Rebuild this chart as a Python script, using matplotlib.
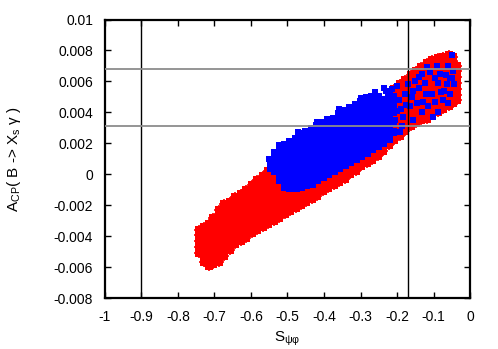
import matplotlib
matplotlib.use("Agg")
import matplotlib.pyplot as plt

plt.rcParams['font.family'] = ['Liberation Sans', 'DejaVu Sans']

# S_psiphi (x) and A_CP (y), grouped in columns of equal x
red_cols = [
    (-0.742, [-0.0051, -0.0047, -0.0043, -0.0039, -0.0036]),
    (-0.730, [-0.0057, -0.0053, -0.0049, -0.0045, -0.0041, -0.0037, -0.0034]),
    (-0.716, [-0.0059, -0.0056, -0.0052, -0.0048, -0.0044, -0.0040, -0.0036, -0.0032]),
    (-0.703, [-0.0058, -0.0055, -0.0051, -0.0047, -0.0043, -0.0039, -0.0035, -0.0031, -0.0028]),
    (-0.688, [-0.0057, -0.0054, -0.0050, -0.0046, -0.0042, -0.0038, -0.0034, -0.0030, -0.0026, -0.0023]),
    (-0.673, [-0.0053, -0.0050, -0.0046, -0.0042, -0.0038, -0.0034, -0.0030, -0.0026, -0.0022, -0.0019]),
    (-0.658, [-0.0049, -0.0046, -0.0042, -0.0038, -0.0034, -0.0030, -0.0026, -0.0022, -0.0018]),
    (-0.643, [-0.0045, -0.0042, -0.0038, -0.0034, -0.0030, -0.0026, -0.0022, -0.0018, -0.0015]),
    (-0.628, [-0.0043, -0.0040, -0.0036, -0.0032, -0.0028, -0.0024, -0.0020, -0.0016, -0.0013]),
    (-0.613, [-0.0041, -0.0038, -0.0034, -0.0030, -0.0026, -0.0022, -0.0018, -0.0014, -0.0010]),
    (-0.598, [-0.0038, -0.0035, -0.0031, -0.0027, -0.0023, -0.0019, -0.0015, -0.0011, -0.0007]),
    (-0.583, [-0.0036, -0.0033, -0.0029, -0.0025, -0.0021, -0.0017, -0.0013, -0.0009, -0.0005, -0.0004]),
    (-0.568, [-0.0034, -0.0031, -0.0027, -0.0023, -0.0019, -0.0015, -0.0011, -0.0007, -0.0003, -0.0001]),
    (-0.553, [-0.0032, -0.0029, -0.0025, -0.0021, -0.0017, -0.0013, -0.0009, -0.0005, -0.0001, 0.0002]),
    (-0.538, [-0.0030, -0.0027, -0.0023, -0.0019, -0.0015, -0.0011, -0.0007, -0.0003, 0.0001, 0.0004]),
    (-0.523, [-0.0028, -0.0025, -0.0021, -0.0017, -0.0013, -0.0009, -0.0005, -0.0001, 0.0003]),
    (-0.508, [-0.0026, -0.0023, -0.0019, -0.0015, -0.0011, -0.0007, -0.0003, 0.0001]),
    (-0.493, [-0.0024, -0.0021, -0.0017, -0.0013, -0.0009, -0.0005, -0.0001]),
    (-0.478, [-0.0022, -0.0019, -0.0015, -0.0011, -0.0007, -0.0003, 0.0001]),
    (-0.463, [-0.0020, -0.0017, -0.0013, -0.0009, -0.0005, -0.0001, 0.0003]),
    (-0.448, [-0.0018, -0.0015, -0.0011, -0.0007, -0.0003, 0.0001]),
    (-0.433, [-0.0016, -0.0013, -0.0009, -0.0005, -0.0001, 0.0003]),
    (-0.418, [-0.0014, -0.0011, -0.0007, -0.0003, 0.0001, 0.0005]),
    (-0.403, [-0.0011, -0.0008, -0.0004, 0.0000, 0.0004]),
    (-0.388, [-0.0009, -0.0006, -0.0002, 0.0002, 0.0006]),
    (-0.373, [-0.0007, -0.0004, 0.0000, 0.0004, 0.0008]),
    (-0.358, [-0.0005, -0.0002, 0.0002, 0.0006, 0.0010]),
    (-0.343, [-0.0003, 0.0000, 0.0004, 0.0008, 0.0012]),
    (-0.328, [0.0000, 0.0003, 0.0007, 0.0011, 0.0015]),
    (-0.313, [0.0002, 0.0005, 0.0009, 0.0013, 0.0017]),
    (-0.298, [0.0005, 0.0008, 0.0012, 0.0016, 0.0020]),
    (-0.283, [0.0007, 0.0010, 0.0014, 0.0018, 0.0022]),
    (-0.268, [0.0009, 0.0012, 0.0016, 0.0020, 0.0024]),
    (-0.253, [0.0012, 0.0015, 0.0019, 0.0023, 0.0027, 0.0031, 0.0035, 0.0039]),
    (-0.238, [0.0015, 0.0018, 0.0022, 0.0026, 0.0030, 0.0034, 0.0038, 0.0042, 0.0046]),
    (-0.223, [0.0019, 0.0022, 0.0026, 0.0030, 0.0034, 0.0038, 0.0042, 0.0046, 0.0050]),
    (-0.208, [0.0022, 0.0025, 0.0029, 0.0033, 0.0037, 0.0041, 0.0045, 0.0049, 0.0053, 0.0055]),
    (-0.193, [0.0025, 0.0028, 0.0032, 0.0036, 0.0040, 0.0044, 0.0048, 0.0052, 0.0056, 0.0058]),
    (-0.178, [0.0028, 0.0031, 0.0035, 0.0039, 0.0043, 0.0047, 0.0051, 0.0055, 0.0059, 0.0061]),
    (-0.163, [0.0031, 0.0034, 0.0038, 0.0042, 0.0046, 0.0050, 0.0054, 0.0058, 0.0062, 0.0064]),
    (-0.148, [0.0033, 0.0036, 0.0040, 0.0044, 0.0048, 0.0052, 0.0056, 0.0060, 0.0064, 0.0067]),
    (-0.133, [0.0035, 0.0038, 0.0042, 0.0046, 0.0050, 0.0054, 0.0058, 0.0062, 0.0066, 0.0069]),
    (-0.118, [0.0036, 0.0039, 0.0043, 0.0047, 0.0051, 0.0055, 0.0059, 0.0063, 0.0067, 0.0071, 0.0072]),
    (-0.103, [0.0038, 0.0041, 0.0045, 0.0049, 0.0053, 0.0057, 0.0061, 0.0065, 0.0069, 0.0073, 0.0074]),
    (-0.088, [0.0040, 0.0043, 0.0047, 0.0051, 0.0055, 0.0059, 0.0063, 0.0067, 0.0071, 0.0075]),
    (-0.073, [0.0042, 0.0045, 0.0049, 0.0053, 0.0057, 0.0061, 0.0065, 0.0069, 0.0073, 0.0076]),
    (-0.058, [0.0044, 0.0047, 0.0051, 0.0055, 0.0059, 0.0063, 0.0067, 0.0071, 0.0075, 0.0077]),
    (-0.046, [0.0046, 0.0049, 0.0053, 0.0057, 0.0061, 0.0065, 0.0069, 0.0073, 0.0076]),
    (-0.036, [0.0048, 0.0051, 0.0055, 0.0059, 0.0063, 0.0067, 0.0070]),
]

blue_cols = [
    (-0.545, [0.0004, 0.0008]),
    (-0.533, [0.0002, 0.0006, 0.0011, 0.0014]),
    (-0.520, [-0.0004, 0.0000, 0.0004, 0.0008, 0.0012, 0.0016]),
    (-0.507, [-0.0008, -0.0004, 0.0000, 0.0004, 0.0008, 0.0012, 0.0016, 0.0019]),
    (-0.493, [-0.0009, -0.0005, -0.0001, 0.0003, 0.0007, 0.0011, 0.0015, 0.0019, 0.0021]),
    (-0.478, [-0.0009, -0.0005, -0.0001, 0.0003, 0.0007, 0.0011, 0.0015, 0.0019, 0.0023]),
    (-0.463, [-0.0008, -0.0004, 0.0000, 0.0004, 0.0008, 0.0012, 0.0016, 0.0020, 0.0024, 0.0026]),
    (-0.448, [-0.0007, -0.0003, 0.0001, 0.0005, 0.0009, 0.0013, 0.0017, 0.0021, 0.0025, 0.0027]),
    (-0.433, [-0.0006, -0.0002, 0.0002, 0.0006, 0.0010, 0.0014, 0.0018, 0.0022, 0.0026, 0.0029]),
    (-0.418, [-0.0004, 0.0000, 0.0004, 0.0008, 0.0012, 0.0016, 0.0020, 0.0024, 0.0028, 0.0031]),
    (-0.403, [-0.0002, 0.0002, 0.0006, 0.0010, 0.0014, 0.0018, 0.0022, 0.0026, 0.0030, 0.0033]),
    (-0.388, [0.0000, 0.0004, 0.0008, 0.0012, 0.0016, 0.0020, 0.0024, 0.0028, 0.0032, 0.0035]),
    (-0.373, [0.0002, 0.0006, 0.0010, 0.0014, 0.0018, 0.0022, 0.0026, 0.0030, 0.0034, 0.0036]),
    (-0.358, [0.0004, 0.0008, 0.0012, 0.0016, 0.0020, 0.0024, 0.0028, 0.0032, 0.0036, 0.0039]),
    (-0.343, [0.0006, 0.0010, 0.0014, 0.0018, 0.0022, 0.0026, 0.0030, 0.0034, 0.0038, 0.0041]),
    (-0.328, [0.0008, 0.0012, 0.0016, 0.0020, 0.0024, 0.0028, 0.0032, 0.0036, 0.0040, 0.0043]),
    (-0.313, [0.0010, 0.0014, 0.0018, 0.0022, 0.0026, 0.0030, 0.0034, 0.0038, 0.0042, 0.0045]),
    (-0.298, [0.0012, 0.0016, 0.0020, 0.0024, 0.0028, 0.0032, 0.0036, 0.0040, 0.0044, 0.0047]),
    (-0.283, [0.0014, 0.0018, 0.0022, 0.0026, 0.0030, 0.0034, 0.0038, 0.0042, 0.0046, 0.0049]),
    (-0.268, [0.0016, 0.0020, 0.0024, 0.0028, 0.0032, 0.0036, 0.0040, 0.0044, 0.0048, 0.0050]),
    (-0.253, [0.0018, 0.0022, 0.0026, 0.0030, 0.0034, 0.0038, 0.0042, 0.0046, 0.0050]),
    (-0.238, [0.0020, 0.0024, 0.0028, 0.0032, 0.0036, 0.0040, 0.0044, 0.0048]),
    (-0.223, [0.0023, 0.0027, 0.0031, 0.0035, 0.0039, 0.0043, 0.0047, 0.0051]),
    (-0.210, [0.0027, 0.0033, 0.0040, 0.0045, 0.0050]),
]

# isolated blue points: over the red cloud on the right and along the upper edge
blue_x = [-0.050, -0.091, -0.060, -0.132, -0.082, -0.055, -0.123, -0.087, -0.151, -0.043,
          -0.055, -0.105, -0.155, -0.073, -0.128, -0.087, -0.132, -0.164, -0.155, -0.183,
          -0.200, -0.195, -0.192, -0.178, -0.110, -0.064, -0.101, -0.046, -0.140, -0.170,
          -0.115, -0.070, -0.215, -0.230, -0.190, -0.185, -0.175, -0.160, -0.145, -0.140,
          -0.120, -0.095, -0.080, -0.065, -0.048, -0.095, -0.118, -0.060, -0.205, -0.200,
          -0.470, -0.420, -0.360, -0.300, -0.260, -0.235, -0.522, -0.550]
blue_y = [0.0077, 0.0070, 0.0070, 0.0065, 0.0065, 0.0062, 0.0059, 0.0059, 0.0060, 0.0058,
          0.0052, 0.0052, 0.0054, 0.0048, 0.0047, 0.0040, 0.0040, 0.0044, 0.0035, 0.0037,
          0.0057, 0.0048, 0.0027, 0.0052, 0.0066, 0.0058, 0.0037, 0.0067, 0.0056, 0.0058,
          0.0044, 0.0054, 0.0055, 0.0054, 0.0042, 0.0031, 0.0045, 0.0050, 0.0046, 0.0063,
          0.0052, 0.0047, 0.0053, 0.0064, 0.0062, 0.0062, 0.0069, 0.0046, 0.0035, 0.0041,
          0.0027, 0.0034, 0.0042, 0.0049, 0.0053, 0.0056, 0.0019, 0.0010]

vlines = [-0.9, -0.17]
hlines = [0.0068, 0.0031]

xticks = [-1, -0.9, -0.8, -0.7, -0.6, -0.5, -0.4, -0.3, -0.2, -0.1, 0]
xtick_labels = ['-1', '-0.9', '-0.8', '-0.7', '-0.6', '-0.5', '-0.4', '-0.3', '-0.2', '-0.1', '0']
yticks = [-0.008, -0.006, -0.004, -0.002, 0, 0.002, 0.004, 0.006, 0.008, 0.01]
ytick_labels = ['-0.008', '-0.006', '-0.004', '-0.002', '0', '0.002', '0.004', '0.006', '0.008', '0.01']

rx = [x for x, ys in red_cols for y in ys]
ry = [y for x, ys in red_cols for y in ys]
bx = [x for x, ys in blue_cols for y in ys]
by = [y for x, ys in blue_cols for y in ys]

fig = plt.figure(figsize=(4.98, 3.49), dpi=100)
ax = fig.add_axes([0.2108, 0.1461, 0.733, 0.798])

# red: filled core plus thin crosses for the ragged edge
ax.plot(rx, ry, 's', color='red', ms=5.4, mew=0, linestyle='none', zorder=2)
ax.plot(rx, ry, '+', color='red', ms=6.5, mew=1.2, linestyle='none', zorder=2)
ax.plot(bx, by, 's', color='blue', ms=5.4, mew=0, linestyle='none', zorder=3)
ax.plot(blue_x, blue_y, 's', color='blue', ms=4.8, mew=0, linestyle='none', zorder=3)

for v in vlines:
    ax.axvline(v, color='black', lw=1.0, zorder=5)
for h in hlines:
    ax.axhline(h, color='#8c8c8c', lw=1.3, zorder=5)

ax.set_xlim(-1, 0)
ax.set_ylim(-0.008, 0.01)
ax.set_xticks(xticks)
ax.set_xticklabels(xtick_labels)
ax.set_yticks(yticks)
ax.set_yticklabels(ytick_labels)
ax.tick_params(direction='in', top=True, right=True, length=4, width=1,
               labelsize=10, pad=8.5)
for s in ax.spines.values():
    s.set_linewidth(1.6)

ax.set_xlabel(r'$\mathregular{S_{ψφ}}$', fontsize=11)
ax.xaxis.set_label_coords(0.5, -0.115)
ax.set_ylabel(r'$\mathregular{A_{CP}}$( B -> X$\mathregular{_s}$ γ )', fontsize=11)
ax.yaxis.set_label_coords(-0.225, 0.5)

fig.savefig('out.png', dpi=100)
